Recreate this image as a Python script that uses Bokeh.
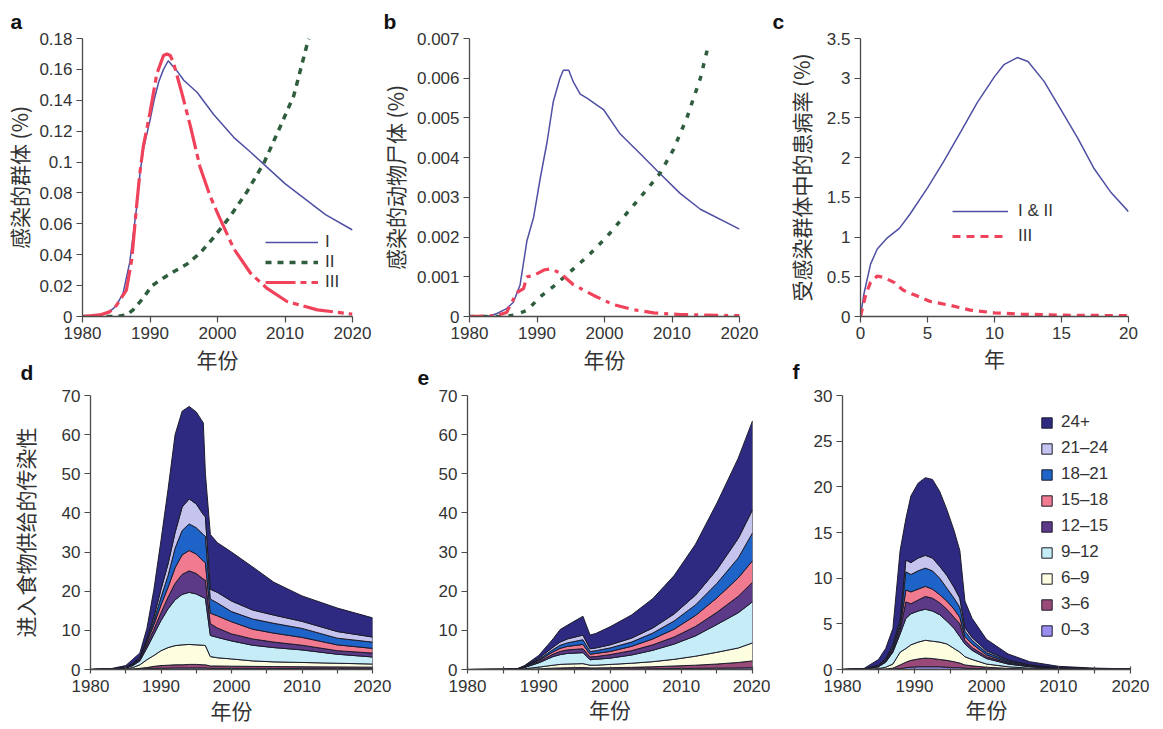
import numpy as np
from bokeh.plotting import figure
from bokeh.layouts import row, column
from bokeh.models import (Range1d, FixedTicker, Legend, LegendItem, Title,
                          CustomJSTickFormatter)
from bokeh.embed import file_html
from bokeh.resources import INLINE

# ---------------- data ----------------
# panel a
a_I_years = [1980, 1982, 1984, 1985, 1986, 1987, 1988, 1988.5, 1989, 1990, 1990.6, 1991.3, 1992, 1992.7,
             1994, 1995, 1997, 1999.4, 2002.4, 2005, 2007, 2010, 2013, 2016, 2020]
a_I = [0, 0.0005, 0.003, 0.007, 0.015, 0.035, 0.07, 0.092, 0.108, 0.127, 0.14, 0.152, 0.16, 0.1656,
       0.159, 0.153, 0.145, 0.131, 0.116, 0.106, 0.098, 0.086, 0.076, 0.066, 0.056]
a_II_years = [1980, 1985, 1986.5, 1987.5, 1989, 1990.3, 1992, 1993.5, 1995.5, 1997.4, 1999.4, 2001.9,
              2004.4, 2006.9, 2009.3, 2011.3, 2013.5]
a_II = [0, 0, 0.001, 0.0043, 0.012, 0.02, 0.025, 0.029, 0.034, 0.041, 0.051, 0.065, 0.081, 0.0996,
        0.123, 0.143, 0.18]
a_III_years = [1980, 1982.6, 1984, 1985, 1986.5, 1987.3, 1988, 1988.5, 1989, 1990, 1991, 1992, 1992.5,
               1993, 1993.5, 1994.7, 1996, 1997.4, 1998.9, 2000.2, 2002.4, 2004.9, 2007.4, 2010.3,
               2014.8, 2020]
a_III = [0, 0.001, 0.003, 0.007, 0.017, 0.037, 0.071, 0.093, 0.110, 0.132, 0.157, 0.169, 0.170,
         0.169, 0.164, 0.145, 0.123, 0.097, 0.078, 0.065, 0.044, 0.028, 0.018, 0.0097, 0.0043, 0.0015]

# panel b
b_I_years = [1980, 1983, 1984, 1985.5, 1986.5, 1987.5, 1988.5, 1989.5, 1990.5, 1991.5, 1992.4, 1993.4,
             1993.9, 1994.7, 1995.4, 1996.4, 1997.4, 1999.9, 2002.3, 2005.3, 2008.2, 2011.2, 2014.2, 2020]
b_I = [0, 0.00002, 0.00007, 0.0002, 0.00036, 0.0008, 0.0019, 0.0025, 0.0035, 0.0044, 0.0054, 0.006,
       0.0062, 0.0062, 0.0059, 0.0056, 0.0055, 0.0052, 0.0046, 0.0041, 0.0036, 0.0031, 0.0027, 0.0022]
b_II_years = [1980, 1985, 1986.5, 1988.5, 1990.5, 1992.4, 1994.4, 1997.4, 2000.3, 2003.3, 2006.3,
              2008.2, 2010.2, 2012.2, 2014.2, 2015.2]
b_II = [0, 0, 0.00003, 0.00015, 0.0005, 0.00075, 0.00105, 0.0015, 0.002, 0.0026, 0.0032, 0.0036,
        0.0042, 0.005, 0.006, 0.0067]
b_III_years = [1980, 1984, 1985.5, 1987, 1988, 1988.5, 1989.5, 1991, 1992, 1993.4, 1995.4, 1998.4,
               2001.3, 2004.3, 2007.3, 2011.2, 2020]
b_III = [0, 0.00002, 0.0001, 0.0006, 0.0007, 0.001, 0.00103, 0.00117, 0.0012, 0.0011, 0.0008,
         0.00053, 0.0003, 0.00017, 0.00009, 0.00005, 0.00002]

# panel c
c_I_x = [0, 0.25, 0.75, 1.25, 2, 2.9, 3.7, 5, 6.2, 7.5, 8.7, 10, 10.7, 11.7, 12.5, 13.7, 14.9, 16.2,
         17.4, 18.7, 20]
c_I = [0, 0.28, 0.66, 0.85, 0.99, 1.11, 1.29, 1.62, 1.95, 2.33, 2.69, 3.02, 3.17, 3.26, 3.21, 2.96,
       2.62, 2.25, 1.87, 1.56, 1.32]
c_III_x = [0, 0.4, 0.75, 1.25, 1.75, 2.5, 3.2, 4.2, 5.2, 6.7, 8.2, 10, 12, 15, 20]
c_III = [0, 0.28, 0.43, 0.51, 0.49, 0.43, 0.33, 0.26, 0.19, 0.14, 0.08, 0.046, 0.03, 0.017, 0.01]

# stacked panels: age classes (bottom to top)
age_classes = ["0\u20133", "3\u20136", "6\u20139", "9\u201312", "12\u201315", "15\u201318",
               "18\u201321", "21\u201324", "24+"]
age_colors = ["#9a8ef0", "#9a4a78", "#fdfde0", "#c6ecf8", "#5c3a88", "#f07a90",
              "#1e64c8", "#c4c4ee", "#2e2a82"]

# panel d
d_years = [1980, 1983, 1985, 1986, 1987, 1988, 1989, 1990, 1991, 1992, 1993, 1994, 1995, 1996,
           1996.3, 1997, 1998, 2000, 2003, 2006, 2010, 2015, 2020]
d_0_3 = [0, 0.01, 0.02, 0.05, 0.1, 0.2, 0.3, 0.3, 0.35, 0.4, 0.4, 0.4, 0.4, 0.4, 0.4, 0.3, 0.3, 0.3,
         0.3, 0.25, 0.25, 0.2, 0.2]
d_3_6 = [0, 0.01, 0.03, 0.1, 0.2, 0.3, 0.5, 0.7, 0.75, 0.8, 0.8, 0.9, 0.9, 0.8, 0.8, 0.6, 0.6, 0.55,
         0.5, 0.5, 0.45, 0.45, 0.4]
d_6_9 = [0, 0.02, 0.1, 0.35, 0.9, 2.0, 2.8, 3.8, 4.5, 4.9, 5.1, 5.1, 5.0, 5.0, 4.9, 2.4, 2.1, 1.85,
         1.4, 1.2, 1.1, 0.95, 0.8]
d_9_12 = [0, 0.02, 0.2, 0.5, 1.0, 3.0, 5.4, 7.7, 9.9, 11.7, 12.9, 13.3, 13.0, 12.2, 12.1, 5.4, 5.2,
          4.6, 4.0, 3.65, 3.2, 2.3, 1.8]
d_12_15 = [0, 0.02, 0.07, 0.15, 0.3, 0.8, 1.3, 2.0, 3.0, 4.2, 5.1, 5.5, 5.2, 4.7, 4.6, 3.0, 2.4, 1.8,
           1.6, 1.4, 1.2, 0.9, 1.0]
d_15_18 = [0, 0.02, 0.06, 0.15, 0.3, 0.7, 1.2, 2.0, 2.5, 4.0, 5.0, 5.2, 5.0, 4.6, 4.5, 2.7, 3.1, 3.1,
           2.5, 2.3, 2.0, 1.5, 1.2]
d_18_21 = [0, 0.02, 0.05, 0.15, 0.2, 0.6, 1.0, 2.0, 3.0, 5.0, 6.2, 6.8, 6.7, 6.8, 6.7, 3.6, 3.3, 2.6,
           2.6, 2.5, 2.3, 1.7, 1.6]
d_21_24 = [0, 0.02, 0.05, 0.15, 0.2, 0.4, 1.0, 2.0, 3.0, 4.0, 6.0, 6.4, 6.1, 5.1, 5.0, 2.5, 2.7, 2.7,
           2.3, 2.1, 1.8, 1.7, 1.3]
d_24p = [0, 0.11, 0.42, 1.0, 1.0, 2.5, 7.0, 12.5, 19, 25, 24.5, 23.6, 23.5, 23.4, 11, 14, 12.7, 12.5,
         11, 8.4, 6.5, 6.0, 4.9]

# panel e
e_years = [1980, 1985, 1987, 1988, 1990, 1992, 1993, 1994, 1996.2, 1997.2, 1998, 2000, 2003, 2006,
           2009, 2012, 2015, 2018, 2020]
e_0_3 = [0, 0, 0, 0.02, 0.05, 0.1, 0.12, 0.13, 0.15, 0.1, 0.1, 0.12, 0.15, 0.2, 0.25, 0.3, 0.35, 0.4,
         0.45]
e_3_6 = [0, 0, 0.01, 0.03, 0.1, 0.25, 0.28, 0.32, 0.35, 0.3, 0.3, 0.33, 0.4, 0.5, 0.65, 0.8, 1.05,
         1.4, 1.75]
e_6_9 = [0, 0.01, 0.03, 0.15, 0.45, 0.75, 0.9, 0.95, 1.0, 0.7, 0.7, 0.85, 1.05, 1.3, 1.7, 2.3, 3.0,
         3.7, 4.6]
e_9_12 = [0, 0.01, 0.06, 0.3, 1.1, 2.2, 2.5, 2.7, 2.8, 1.4, 1.5, 1.6, 2.1, 2.9, 3.9, 5.2, 7.1, 9.0,
          10.5]
e_12_15 = [0, 0.005, 0.02, 0.1, 0.3, 0.6, 0.8, 0.9, 1.0, 0.7, 0.7, 0.9, 1.1, 1.4, 1.8, 2.4, 3.1, 4.2,
           5.0]
e_15_18 = [0, 0.005, 0.02, 0.1, 0.3, 0.6, 0.8, 0.9, 1.1, 0.7, 0.8, 0.8, 1.1, 1.5, 2.0, 2.8, 3.7, 4.7,
           5.5]
e_18_21 = [0, 0.005, 0.02, 0.1, 0.3, 0.6, 0.8, 0.9, 1.2, 0.7, 0.7, 0.9, 1.1, 1.5, 2.1, 2.7, 3.7, 5.1,
           7.1]
e_21_24 = [0, 0.005, 0.01, 0.05, 0.3, 0.6, 0.8, 1.0, 1.2, 0.7, 0.7, 0.8, 1.0, 1.3, 1.8, 2.5, 3.5, 5.0,
           5.9]
e_24p = [0, 0.01, 0.03, 0.15, 0.7, 2.1, 3.2, 3.5, 4.8, 3.5, 3.7, 4.6, 5.9, 7.5, 9.8, 13.0, 17.0,
         20.5, 22.7]

# panel f
f_years = [1980, 1983, 1985, 1986, 1987, 1988, 1988.8, 1989.5, 1990.5, 1991.5, 1992.5, 1993.5,
           1994.5, 1995.5, 1996.3, 1997, 1998, 2000, 2003, 2006, 2010, 2015, 2020]
f_0_3 = [0, 0, 0.01, 0.02, 0.05, 0.1, 0.2, 0.25, 0.3, 0.3, 0.3, 0.3, 0.25, 0.2, 0.2, 0.15, 0.12,
         0.07, 0.04, 0.02, 0.01, 0, 0]
f_3_6 = [0, 0, 0.02, 0.04, 0.1, 0.4, 0.6, 0.75, 0.85, 0.95, 0.9, 0.8, 0.75, 0.65, 0.5, 0.35, 0.28,
         0.18, 0.08, 0.04, 0.02, 0.01, 0]
f_6_9 = [0, 0.01, 0.07, 0.19, 0.45, 1.4, 1.5, 1.7, 1.85, 1.95, 1.9, 1.9, 1.8, 1.45, 1.2, 0.9, 0.7,
         0.35, 0.18, 0.09, 0.03, 0.02, 0.01]
f_9_12 = [0, 0.02, 0.2, 0.55, 1.3, 2.0, 3.3, 3.4, 3.4, 3.4, 3.3, 3.0, 2.5, 2.2, 1.7, 1.4, 1.0, 0.6,
          0.3, 0.15, 0.06, 0.02, 0.01]
f_12_15 = [0, 0.01, 0.05, 0.1, 0.2, 0.4, 1.8, 1.1, 1.2, 1.4, 1.4, 1.3, 1.3, 1.2, 1.4, 0.4, 0.3, 0.2,
           0.1, 0.05, 0.02, 0.01, 0.005]
f_15_18 = [0, 0.01, 0.05, 0.1, 0.2, 0.4, 1.3, 1.3, 1.2, 1.1, 1.0, 0.9, 0.9, 0.9, 0.7, 0.4, 0.4, 0.2,
           0.1, 0.05, 0.02, 0.01, 0.005]
f_18_21 = [0, 0.01, 0.05, 0.1, 0.2, 0.4, 2.0, 1.9, 2.0, 2.0, 2.0, 1.8, 1.4, 1.2, 1.1, 0.6, 0.4,
           0.25, 0.15, 0.07, 0.03, 0.01, 0.005]
f_21_24 = [0, 0.01, 0.05, 0.1, 0.2, 0.4, 1.3, 1.3, 1.4, 1.4, 1.4, 1.3, 1.4, 1.2, 1.0, 0.4, 0.3, 0.2,
           0.1, 0.05, 0.02, 0.01, 0.005]
f_24p = [0, 0.05, 0.6, 1.1, 1.8, 7.5, 4.5, 7.3, 8.2, 8.5, 8.6, 8.2, 7.2, 6.2, 5.2, 2.9, 2.1, 1.25,
         0.65, 0.33, 0.14, 0.06, 0.03]

year_ticks = [1980, 1990, 2000, 2010, 2020]
year_minor = [1985, 1995, 2005, 2015]

# ---------------- styling helpers ----------------
TICK_FONT = "Liberation Sans"
CJK_FONT = "Noto Sans CJK SC"
TXT = "#333333"
AX = "#4a4a4a"

fmt_code = "return String(Math.round(tick * 100000) / 100000);"


def make_fig(w, h, left, right, top, bottom, xr, yr, xticks, yticks, xminor=None,
             xlabel="", ylabel="", xstand=2, ystand=10):
    p = figure(width=w, height=h, x_range=Range1d(*xr), y_range=Range1d(*yr),
               output_backend="svg", toolbar_location=None,
               min_border_left=left, min_border_right=right,
               min_border_top=top, min_border_bottom=bottom)
    p.outline_line_color = None
    p.grid.visible = False
    p.xaxis.ticker = FixedTicker(ticks=xticks, minor_ticks=xminor or [])
    p.yaxis.ticker = FixedTicker(ticks=yticks)
    p.yaxis.formatter = CustomJSTickFormatter(code=fmt_code)
    p.xaxis.formatter = CustomJSTickFormatter(code=fmt_code)
    for ax in (p.xaxis[0], p.yaxis[0]):
        ax.axis_line_color = AX
        ax.axis_line_width = 1.3
        ax.major_tick_line_color = AX
        ax.major_tick_line_width = 1.2
        ax.major_tick_out = 6
        ax.major_tick_in = 0
        ax.minor_tick_line_color = None
        ax.major_label_standoff = 4
        ax.major_label_text_font = TICK_FONT
        ax.major_label_text_font_size = "17px"
        ax.major_label_text_color = TXT
        ax.axis_label_text_font = CJK_FONT
        ax.axis_label_text_font_size = "21px"
        ax.axis_label_text_font_style = "normal"
        ax.axis_label_text_color = TXT
    if xminor:
        xa = p.xaxis[0]
        xa.major_tick_in = 3
        xa.major_tick_out = 4
        xa.minor_tick_line_color = AX
        xa.minor_tick_line_width = 1.2
        xa.minor_tick_in = 3
        xa.minor_tick_out = 4
        xa.major_label_standoff = 6
    p.xaxis.axis_label = xlabel or None
    p.yaxis.axis_label = ylabel or None
    p.xaxis.axis_label_standoff = xstand
    p.yaxis.axis_label_standoff = ystand
    return p


def title_letter(p, letter, offset, standoff):
    p.add_layout(Title(text=letter, align="left", offset=offset, standoff=standoff,
                       text_font=TICK_FONT, text_font_size="21px", text_font_style="bold",
                       text_color="#111111"), "above")


def style_legend(lg, gw, gh, spacing, standoff):
    lg.border_line_color = None
    lg.background_fill_alpha = 0
    lg.padding = 0
    lg.margin = 0
    lg.spacing = spacing
    lg.glyph_width = gw
    lg.glyph_height = gh
    lg.label_height = gh
    lg.label_standoff = standoff
    lg.label_text_font = TICK_FONT
    lg.label_text_font_size = "17px"
    lg.label_text_color = TXT


BLUE = "#4f4fa3"
GREEN = "#2f5e3e"
RED = "#f0425a"

# ---------------- panel a ----------------
pa = make_fig(374, 385, 82, 22, 38, 69, (1980, 2020), (0, 0.18), year_ticks,
              [0, 0.02, 0.04, 0.06, 0.08, 0.1, 0.12, 0.14, 0.16, 0.18],
              xlabel="年份", ylabel="感染的群体 (%)", xstand=2, ystand=2)
ra1 = pa.line(a_I_years, a_I, line_color=BLUE, line_width=1.5)
ra2 = pa.line(a_II_years, a_II, line_color=GREEN, line_width=3.5, line_dash="6 6")
ra3 = pa.line(a_III_years, a_III, line_color=RED, line_width=3.2, line_dash="30 5 6 5")
lga = Legend(items=[LegendItem(label="I", renderers=[ra1]),
                    LegendItem(label="II", renderers=[ra2]),
                    LegendItem(label="III", renderers=[ra3])], location=(183, 24))
style_legend(lga, 53, 14, 0, 7)
pa.add_layout(lga)
title_letter(pa, "a", -72, 11)

# ---------------- panel b ----------------
pb = make_fig(396, 385, 95, 31, 38, 69, (1980, 2020), (0, 0.007), year_ticks,
              [0, 0.001, 0.002, 0.003, 0.004, 0.005, 0.006, 0.007],
              xlabel="年份", ylabel="感染的动物尸体 (%)", xstand=2, ystand=4)
pb.line(b_I_years, b_I, line_color=BLUE, line_width=1.5)
pb.line(b_II_years, b_II, line_color=GREEN, line_width=3.5, line_dash="5 8")
pb.line(b_III_years, b_III, line_color=RED, line_width=3.2, line_dash="14 6 4 6")
title_letter(pb, "b", -86, 11)

# ---------------- panel c ----------------
pc = make_fig(393, 385, 90, 35, 38, 69, (0, 20), (0, 3.5), [0, 5, 10, 15, 20],
              [0, 0.5, 1, 1.5, 2, 2.5, 3, 3.5],
              xlabel="年", ylabel="受感染群体中的患病率 (%)", xstand=1, ystand=8)
rc1 = pc.line(c_I_x, c_I, line_color=BLUE, line_width=1.5)
rc2 = pc.line(c_III_x, c_III, line_color=RED, line_width=3.2, line_dash="8 6")
lgc = Legend(items=[LegendItem(label="I & II", renderers=[rc1]),
                    LegendItem(label="III", renderers=[rc2])], location=(92, 70))
style_legend(lgc, 56, 14, 5, 10)
pc.add_layout(lgc)
title_letter(pc, "c", -88, 11)


# ---------------- stacked panels ----------------
def stacked(p, years, layers):
    vals = np.array(layers, dtype=float)
    tops = np.cumsum(vals, axis=0)
    bottoms = np.vstack([np.zeros(vals.shape[1]), tops[:-1]])
    xs = list(years) + list(years)[::-1]
    rends = []
    for i, col in enumerate(age_colors):
        ys = list(tops[i]) + list(bottoms[i])[::-1]
        r = p.patch(xs, ys, fill_color=col, line_color="#1c1c2c", line_width=1,
                    line_join="round")
        rends.append(r)
    return rends


OVERLAP = 46
BH = 344 + OVERLAP  # bottom row figure height (overlaps the top row)

pd_ = make_fig(392, BH, 90, 20, 8 + OVERLAP, 60, (1980, 2020), (0, 70), year_ticks,
               [0, 10, 20, 30, 40, 50, 60, 70], xminor=year_minor,
               xlabel="年份", ylabel="进入食物供给的传染性", xstand=0, ystand=19)
stacked(pd_, d_years, [d_0_3, d_3_6, d_6_9, d_9_12, d_12_15, d_15_18, d_18_21, d_21_24, d_24p])
title_letter(pd_, "d", -70, 23)

pe = make_fig(378, BH, 75, 18, 10 + OVERLAP, 57, (1980, 2020), (0, 70), year_ticks,
              [0, 10, 20, 30, 40, 50, 60, 70], xminor=year_minor,
              xlabel="年份", xstand=-1)
stacked(pe, e_years, [e_0_3, e_3_6, e_6_9, e_9_12, e_12_15, e_15_18, e_18_21, e_21_24, e_24p])
title_letter(pe, "e", -50, 21)

pf = make_fig(393, BH, 72, 33, 9 + OVERLAP, 57, (1980, 2020), (0, 30), year_ticks,
              [0, 5, 10, 15, 20, 25, 30], xminor=year_minor,
              xlabel="年份", xstand=-1)
rf = stacked(pf, f_years, [f_0_3, f_3_6, f_6_9, f_9_12, f_12_15, f_15_18, f_18_21, f_21_24, f_24p])
title_letter(pf, "f", -50, 26)

items = [LegendItem(label=lab, renderers=[r]) for lab, r in zip(age_classes, rf)]
items.reverse()
lgf = Legend(items=items, location=(198, 29))
style_legend(lgf, 13, 13, 6, 8)
pf.add_layout(lgf)

for p in (pd_, pe, pf):
    p.border_fill_color = None

top_row = row(pa, pb, pc, spacing=0)
bottom_row = row(pd_, pe, pf, spacing=0, margin=(-OVERLAP, 0, 0, 0))
layout = column(top_row, bottom_row, spacing=0)

with open("out.html", "w") as fh:
    fh.write(file_html(layout, INLINE))
